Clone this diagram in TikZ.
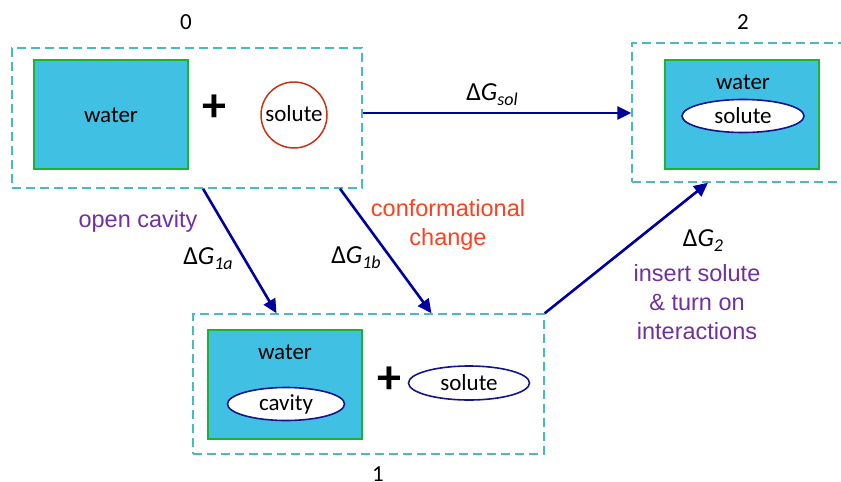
\documentclass[tikz,border=0pt]{standalone}
\usepackage{fontspec}
\setmainfont{Carlito}
\newfontfamily\arialfont{Liberation Sans}
\usetikzlibrary{arrows.meta,shapes.geometric}
\definecolor{frameteal}{RGB}{70,188,190}
\definecolor{waterfill}{RGB}{64,193,228}
\definecolor{watergreen}{RGB}{30,178,50}
\definecolor{navy}{RGB}{0,0,160}
\definecolor{ellnavy}{RGB}{20,20,140}
\definecolor{solred}{RGB}{200,50,20}
\definecolor{confred}{RGB}{255,64,32}
\definecolor{notepurple}{RGB}{112,48,160}
% free-energy symbol: upright Delta, italic G, italic subscript
\newcommand{\dG}[1]{Δ\textit{G}\raisebox{-0.4ex}{\fontsize{18}{18}\selectfont\textit{#1}}}
\tikzset{
  statebox/.style={draw=frameteal, line width=1.4pt, dash pattern=on 9pt off 5pt, inner sep=0pt},
  waterbox/.style={draw=watergreen, fill=waterfill, line width=1.4pt,
    minimum width=154pt, minimum height=109pt, inner sep=0pt},
  soluteell/.style={ellipse, draw=ellnavy, fill=white, line width=1.6pt,
    minimum width=121pt, minimum height=34pt, inner sep=0pt},
  lbl/.style={font=\fontsize{23}{26}\selectfont, inner sep=0pt},
  glbl/.style={font=\fontsize{26}{28}\selectfont, inner sep=0pt},
  plussign/.style={font=\fontsize{48}{48}\selectfont\bfseries, inner sep=0pt},
  note/.style={font=\arialfont\fontsize{23.5}{29}\selectfont, inner sep=0pt, align=center},
  step arrow/.style={draw=navy, line width=2.6pt,
    -{Triangle[length=14pt,width=13pt]}},
}
\begin{document}
\begin{tikzpicture}[x=1pt,y=-1pt]
\useasboundingbox (0,0) rectangle (841,482);
\clip (0,0) rectangle (841,482);

% state 0: separate water and solute
\node[statebox, minimum width=350pt, minimum height=140pt] (box0) at (187,118) {};
\node[lbl] (t0) at (186,22) {0};
\node[waterbox] (w0) at (111,114.5) {};
\node[lbl] (w0t) at (111,115) {water};
\node[plussign] (plus0) at (214,108) {+};
\node[circle, draw=solred, line width=1.5pt, minimum size=66pt, inner sep=0pt] (sol0) at (294,115) {};
\node[lbl] (sol0t) at (294,114) {solute};

% state 2: solute dissolved in water
\node[statebox, minimum width=220pt, minimum height=139pt] (box2) at (742,112.5) {};
\node[lbl] (t2) at (743,22) {2};
\node[waterbox] (w2) at (742,114.5) {};
\node[lbl] (w2t) at (743,82) {water};
\node[soluteell, minimum width=122pt, minimum height=33pt] (sol2) at (743,116) {};
\node[lbl] (sol2t) at (743,116) {solute};

% state 1: water with cavity plus solute
\node[statebox, minimum width=351pt, minimum height=140pt] (box1) at (368.5,384) {};
\node[lbl] (t1) at (378,474) {1};
\node[waterbox] (w1) at (285,384.5) {};
\node[lbl] (w1t) at (285,352) {water};
\node[soluteell, minimum width=117pt, minimum height=33pt] (cav) at (286,404) {};
\node[lbl] (cavt) at (286,404) {cavity};
\node[plussign] (plus1) at (389,380) {+};
\node[soluteell] (sol1) at (469,383) {};
\node[lbl] (sol1t) at (469,383) {solute};

% free-energy steps
\draw[step arrow] ([yshift=5pt]box0.east) -- ([yshift=-0.5pt]box2.west);
\draw[step arrow] ([xshift=16pt]box0.south) -- ([xshift=-92pt]box1.north);
\draw[step arrow] ([xshift=153pt]box0.south) -- ([xshift=63pt]box1.north);
\draw[step arrow] (box1.north east) -- ([xshift=-34pt]box2.south);

% step labels
\node[glbl] (gsol) at (492,95) {\dG{sol}};
\node[glbl] (g1a) at (208,259) {\dG{1a}};
\node[glbl] (g1b) at (356,258) {\dG{1b}};
\node[glbl] (g2) at (703,241) {\dG{2}};
\node[note, text=notepurple] (ncav) at (138,221) {open cavity};
\node[note, text=confred] (nconf) at (448,225) {conformational\\change};
\node[note, text=notepurple] (nins) at (697,302) {insert solute\\\& turn on\\interactions};
\end{tikzpicture}
\end{document}
